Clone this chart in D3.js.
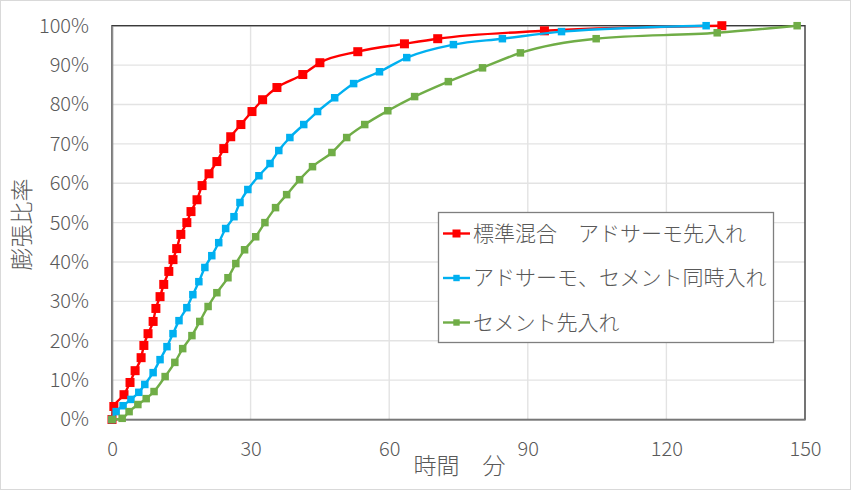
<!DOCTYPE html>
<html>
<head>
<meta charset="utf-8">
<script src="https://cdn.jsdelivr.net/npm/d3@7"></script>
<style>
  body { margin: 0; background: #fff; }
  svg { display: block; }
</style>
</head>
<body>
<div class="chart__container"></div>
<script>
// series names (legend)
const seriesNames = ['標準混合\u3000アドサーモ先入れ', 'アドサーモ、セメント同時入れ', 'セメント先入れ'];

// 標準混合 アドサーモ先入れ : time (min) / expansion ratio (%)
const redTime = [0, 0.4, 2.6, 3.9, 5.0, 6.3, 6.9, 7.8, 8.9, 9.5, 10.4, 11.2, 12.3, 13.2, 14.0, 14.9, 16.2, 17.1, 18.4,
    19.5, 21.0, 22.7, 24.2, 25.7, 27.9, 30.3, 32.6, 35.7, 41.3, 45.0, 53.2, 63.3, 70.5, 93.6, 132.0];
const redRate = [0, 3.3, 6.3, 9.4, 12.4, 15.7, 18.8, 21.8, 24.9, 28.2, 31.2, 34.3, 37.6, 40.6, 43.4, 47.0, 50.0, 52.8, 55.8,
    59.4, 62.4, 65.5, 68.8, 71.8, 74.9, 78.2, 81.2, 84.3, 87.6, 90.6, 93.4, 95.4, 96.7, 98.7, 100];

// アドサーモ、セメント同時入れ
const blueTime = [0, 0.9, 2.4, 4.1, 5.8, 7.1, 8.9, 10.4, 11.9, 13.2, 14.5, 16.2, 17.5, 18.8, 20.1, 21.6, 23.1, 24.6, 26.4,
    27.7, 29.4, 31.8, 34.2, 36.1, 38.5, 41.5, 44.5, 48.2, 52.3, 57.9, 63.8, 73.9, 84.5, 97.3, 128.6];
const blueRate = [0, 2.0, 3.5, 5.1, 6.9, 8.9, 11.9, 15.2, 18.5, 21.8, 25.1, 28.4, 31.7, 35.0, 38.6, 41.6, 44.9, 48.5, 51.5,
    55.1, 58.4, 61.9, 65.0, 68.3, 71.6, 74.9, 78.2, 81.7, 85.3, 88.3, 91.9, 95.2, 96.7, 98.5, 100];

// セメント先入れ
const greenTime = [0, 2.2, 3.7, 5.6, 7.4, 9.1, 11.5, 13.6, 15.3, 17.3, 19.0, 20.8, 22.7, 25.1, 26.8, 28.7, 31.1, 33.1,
    35.4, 37.8, 40.6, 43.4, 47.6, 50.8, 54.7, 59.7, 65.5, 72.8, 80.2, 88.4, 104.8, 131.0, 148.3];
const greenRate = [0, 0.3, 2.0, 3.8, 5.3, 7.1, 10.9, 14.5, 18.0, 21.3, 24.9, 28.7, 32.2, 36.0, 39.6, 43.1, 46.4, 50.0,
    53.8, 57.1, 60.9, 64.2, 67.8, 71.6, 74.9, 78.4, 82.0, 85.8, 89.3, 93.1, 96.7, 98.2, 100];

// ticks
const xTicks = [0, 30, 60, 90, 120, 150];
const yTicks = [0, 10, 20, 30, 40, 50, 60, 70, 80, 90, 100];

const seriesColors = ['#ff0000', '#00b0f0', '#70ad47'];

function whenDocumentLoaded(action) {
    if (document.readyState === "loading") {
        document.addEventListener("DOMContentLoaded", action);
    } else {
        action();
    }
}

function drawChart() {
    const width = 851, height = 490;
    const plot = {left: 112, right: 805, top: 25.7, bottom: 419.5};
    const font = "'Noto Sans CJK JP', 'Noto Sans', sans-serif";
    const textColor = '#595959';

    const svg = d3.select('.chart__container')
        .append('svg')
        .attr('width', width)
        .attr('height', height);

    // chart border
    svg.append('rect')
        .attr('x', 0.5).attr('y', 0.5)
        .attr('width', width - 1).attr('height', height - 1)
        .attr('fill', '#fff')
        .attr('stroke', '#d9d9d9');

    const x = d3.scaleLinear().domain([0, 150]).range([plot.left, plot.right]);
    const y = d3.scaleLinear().domain([0, 100]).range([plot.bottom, plot.top]);

    // gridlines
    svg.append('g')
        .selectAll('line')
        .data(yTicks.filter(d => d > 0))
        .enter()
        .append('line')
        .attr('x1', plot.left).attr('x2', plot.right)
        .attr('y1', d => y(d)).attr('y2', d => y(d))
        .attr('stroke', '#e3e3e3')
        .attr('stroke-width', 1.4);

    svg.append('g')
        .selectAll('line')
        .data(xTicks.filter(d => d > 0 && d < 150))
        .enter()
        .append('line')
        .attr('x1', d => x(d)).attr('x2', d => x(d))
        .attr('y1', plot.top).attr('y2', plot.bottom)
        .attr('stroke', '#e3e3e3')
        .attr('stroke-width', 1.4);

    // plot area border (top / right dark)
    svg.append('rect')
        .attr('x', plot.left).attr('y', plot.top)
        .attr('width', plot.right - plot.left)
        .attr('height', plot.bottom - plot.top)
        .attr('fill', 'none')
        .attr('stroke', '#3a3a3a')
        .attr('stroke-width', 1.4);

    // axes (left / bottom gray)
    const xAxis = d3.axisBottom(x).tickValues(xTicks).tickSize(0).tickPadding(22);
    const yAxis = d3.axisLeft(y).tickValues(yTicks).tickSize(0).tickPadding(23)
        .tickFormat(d => d + '%');

    const gx = svg.append('g')
        .attr('transform', 'translate(0,' + plot.bottom + ')')
        .call(xAxis);
    const gy = svg.append('g')
        .attr('transform', 'translate(' + plot.left + ',0)')
        .call(yAxis);

    [gx, gy].forEach(function(g) {
        g.select('.domain').attr('stroke', '#8c8c8c').attr('stroke-width', 1.6);
        g.selectAll('text')
            .style('font-family', font)
            .style('font-size', '20px')
            .style('font-weight', 300)
            .attr('fill', textColor);
    });

    // axis titles
    svg.append('text')
        .attr('x', (plot.left + plot.right) / 2 + 1)
        .attr('y', 466)
        .attr('dy', '0.35em')
        .attr('text-anchor', 'middle')
        .style('font-family', font)
        .style('font-size', '23px')
        .style('font-weight', 300)
        .attr('fill', textColor)
        .text('時間\u3000分');

    svg.append('text')
        .attr('transform', 'translate(22,' + ((plot.top + plot.bottom) / 2 + 2) + ') rotate(-90)')
        .attr('dy', '0.35em')
        .attr('text-anchor', 'middle')
        .style('font-family', font)
        .style('font-size', '23px')
        .style('font-weight', 300)
        .attr('fill', textColor)
        .text('膨張比率');

    // series
    const series = [
        {times: redTime, rates: redRate, size: 9},
        {times: blueTime, rates: blueRate, size: 7.5},
        {times: greenTime, rates: greenRate, size: 7.5}
    ];

    const line = d3.line()
        .x(d => x(d[0]))
        .y(d => y(d[1]))
        .curve(d3.curveMonotoneX);

    series.forEach(function(s, i) {
        const pts = s.times.map((t, k) => [t, s.rates[k]]);
        const g = svg.append('g').attr('class', 'series' + (i + 1));

        g.append('path')
            .datum(pts)
            .attr('d', line)
            .attr('fill', 'none')
            .attr('stroke', seriesColors[i])
            .attr('stroke-width', 2.4);

        g.selectAll('rect')
            .data(pts)
            .enter()
            .append('rect')
            .attr('x', d => x(d[0]) - s.size / 2)
            .attr('y', d => y(d[1]) - s.size / 2)
            .attr('width', s.size)
            .attr('height', s.size)
            .attr('fill', seriesColors[i]);
    });

    // legend
    const legend = svg.append('g').attr('transform', 'translate(438,212)');
    legend.append('rect')
        .attr('x', 0.5).attr('y', 0.5)
        .attr('width', 335).attr('height', 130)
        .attr('fill', '#fff')
        .attr('stroke', '#7f7f7f')
        .attr('stroke-width', 1.3);

    const items = legend.selectAll('g.item')
        .data(seriesNames)
        .enter()
        .append('g')
        .attr('class', 'item')
        .attr('transform', (d, i) => 'translate(0,' + (21.5 + i * 44.5) + ')');

    items.append('line')
        .attr('x1', 5).attr('x2', 32)
        .attr('stroke', (d, i) => seriesColors[i])
        .attr('stroke-width', 2.4);

    items.append('rect')
        .attr('x', (d, i) => 18.5 - (i === 0 ? 4 : 3.2))
        .attr('y', (d, i) => -(i === 0 ? 4 : 3.2))
        .attr('width', (d, i) => i === 0 ? 8 : 6.4)
        .attr('height', (d, i) => i === 0 ? 8 : 6.4)
        .attr('fill', (d, i) => seriesColors[i]);

    items.append('text')
        .attr('x', 35)
        .attr('dy', '0.35em')
        .style('font-family', font)
        .style('font-size', '21px')
        .style('font-weight', 300)
        .attr('fill', textColor)
        .text(d => d);
}

whenDocumentLoaded(drawChart);
</script>
</body>
</html>
